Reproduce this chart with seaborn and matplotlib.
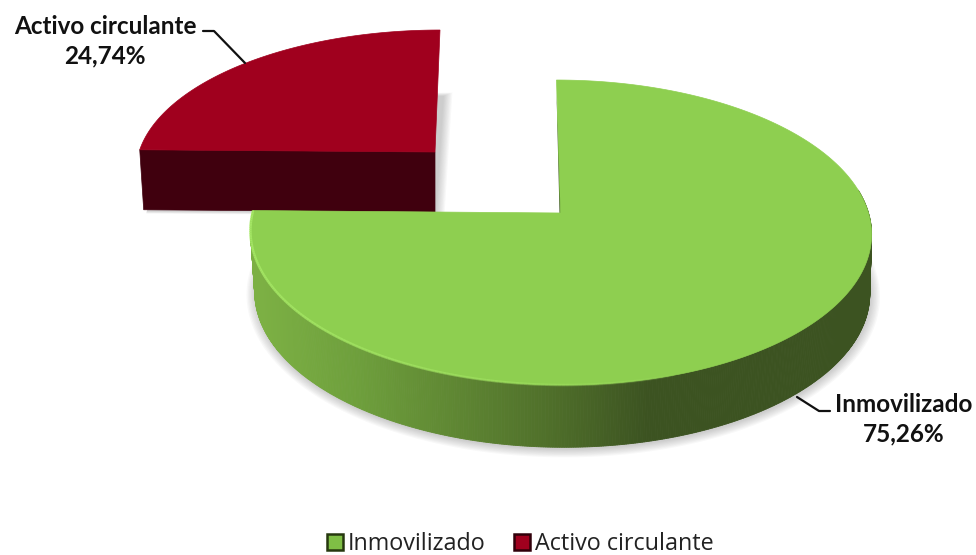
import numpy as np
import seaborn as sns
import matplotlib.pyplot as plt
from matplotlib.patches import Patch

categorias = ['Inmovilizado', 'Activo circulante']
valores = [75.26, 24.74]

W, H = 976, 555
PERSP = 0.128

sns.set_theme(style='white')
plt.rcParams['font.family'] = ['Lato', 'DejaVu Sans']

fig = plt.figure(figsize=(W / 100, H / 100), dpi=100)
ax = fig.add_axes([0, 0, 1, 1])
ax.set_xlim(0, W)
ax.set_ylim(H, 0)
ax.axis('off')

# angulos de cada sector, en sentido horario desde arriba
cortes = np.radians(np.concatenate([[0], np.cumsum(valores)]) * 3.6)


def proyecta(theta, cx, cy, a, b, sesgo):
    u, v = np.sin(theta), np.cos(theta)
    w = 1 + PERSP * v
    return cx + b * u / w + sesgo * v, cy - a * v / w


def sector(ini, fin, geo):
    t = np.linspace(ini, fin, 300)
    x, y = proyecta(t, *geo)
    return np.r_[geo[0], x], np.r_[geo[1], y]


# geometria de las tapas (posicion, radios, sesgo)
verde_sup = (560.5, 213, 150, 308, -4)
verde_inf = (562, 273, 152, 305, -2)
rojo_sup = (435, 152, 137.6, 296, 5)
rojo_inf = (435, 212, 137.6, 292, 3)

# Sombras
for i in range(8):
    x, y = sector(np.pi * 0.4, cortes[1] + 0.05, (563, 275, 152 + i * 1.0, 305 + i * 1.3, -2))
    ax.fill(x, y, color='#555555', alpha=0.04, lw=0, zorder=1)
    x, y = sector(cortes[1], cortes[2], (436 + i * 1.2, 213 + i * 0.4, 132 + i, 290 + i * 1.3, 8))
    ax.fill(x, y, color='#555555', alpha=0.04, lw=0, zorder=1)

# Sector rojo
xr, yr = sector(cortes[1], cortes[2], rojo_sup)
xb0, yb0 = proyecta(cortes[1], *rojo_inf)
xt0, yt0 = proyecta(cortes[1], *rojo_sup)
ax.fill([xt0, rojo_sup[0], rojo_inf[0], xb0], [yt0, rojo_sup[1], rojo_inf[1], yb0],
        color='#40000E', lw=0.5, zorder=2)
ax.fill(xr, yr, color='#A0001E', lw=0.5, zorder=3)

# Pared del sector verde, degradado segun la posicion horizontal
rampa = sns.blend_palette(['#7CB044', '#6E9F3C', '#5F8733', '#4F6F2A', '#3C5321'], as_cmap=True)
t = np.linspace(np.pi * 0.45, cortes[1], 500)
x1, y1 = proyecta(t, *verde_sup)
x2, y2 = proyecta(t, *verde_inf)
for i in range(len(t) - 1):
    color = rampa(np.clip((x1[i] - 260) / (650 - 260), 0, 1))
    ax.fill([x1[i], x1[i + 1], x2[i + 1], x2[i]], [y1[i], y1[i + 1], y2[i + 1], y2[i]],
            color=color, lw=0.6, zorder=4)

# Tapa verde
xv, yv = sector(cortes[0], cortes[1], verde_sup)
ax.fill(xv, yv, color='#8ECF50', lw=0.5, zorder=5)

# Canto oscuro junto al corte vertical
xc, yc = proyecta(cortes[0], *verde_sup)
ax.fill([verde_sup[0] - 1, verde_sup[0] + 1.5, xc], [verde_sup[1], verde_sup[1], yc + 12],
        color='#3C5321', lw=0, zorder=4.5)

# Brillo del borde
t = np.linspace(cortes[1], np.pi * 0.9, 160)
xb, yb = proyecta(t, *verde_sup)
for i in range(len(t) - 1):
    ax.plot(xb[i:i + 2], yb[i:i + 2], color='#A6E866', lw=1.8,
            alpha=0.95 * (1 - i / len(t)) ** 0.5, solid_capstyle='butt', zorder=6)

# Etiquetas con lineas de guia
rotulos = [f'{c}\n{v:.2f}%'.replace('.', ',') for c, v in zip(categorias, valores)]
ax.plot([203, 214, 245], [31, 31, 63], color='#111111', lw=1.6, zorder=7)
ax.plot([797, 819, 830], [397, 411, 411], color='#111111', lw=1.6, zorder=7)
ax.text(105, 41, rotulos[1], ha='center', va='center', fontsize=17.5, fontweight='bold',
        linespacing=1.35, color='#111111', zorder=8)
ax.text(904, 419, rotulos[0], ha='center', va='center', fontsize=17.5, fontweight='bold',
        linespacing=1.35, color='#111111', zorder=8)

# Leyenda
marcas = [Patch(facecolor='#7FBF45', edgecolor='#26380F', lw=1.8),
          Patch(facecolor='#A0001E', edgecolor='#30000A', lw=1.8)]
leg = ax.legend(marcas, categorias, loc='center', bbox_to_anchor=(0.533, 0.0195), ncol=2,
                frameon=False, handlelength=0.7, handleheight=0.7, handletextpad=0.2,
                columnspacing=1.23, prop={'family': 'Open Sans', 'size': 16.8})
for txt in leg.get_texts():
    txt.set_color('#222222')

fig.savefig('out.png', dpi=100)
